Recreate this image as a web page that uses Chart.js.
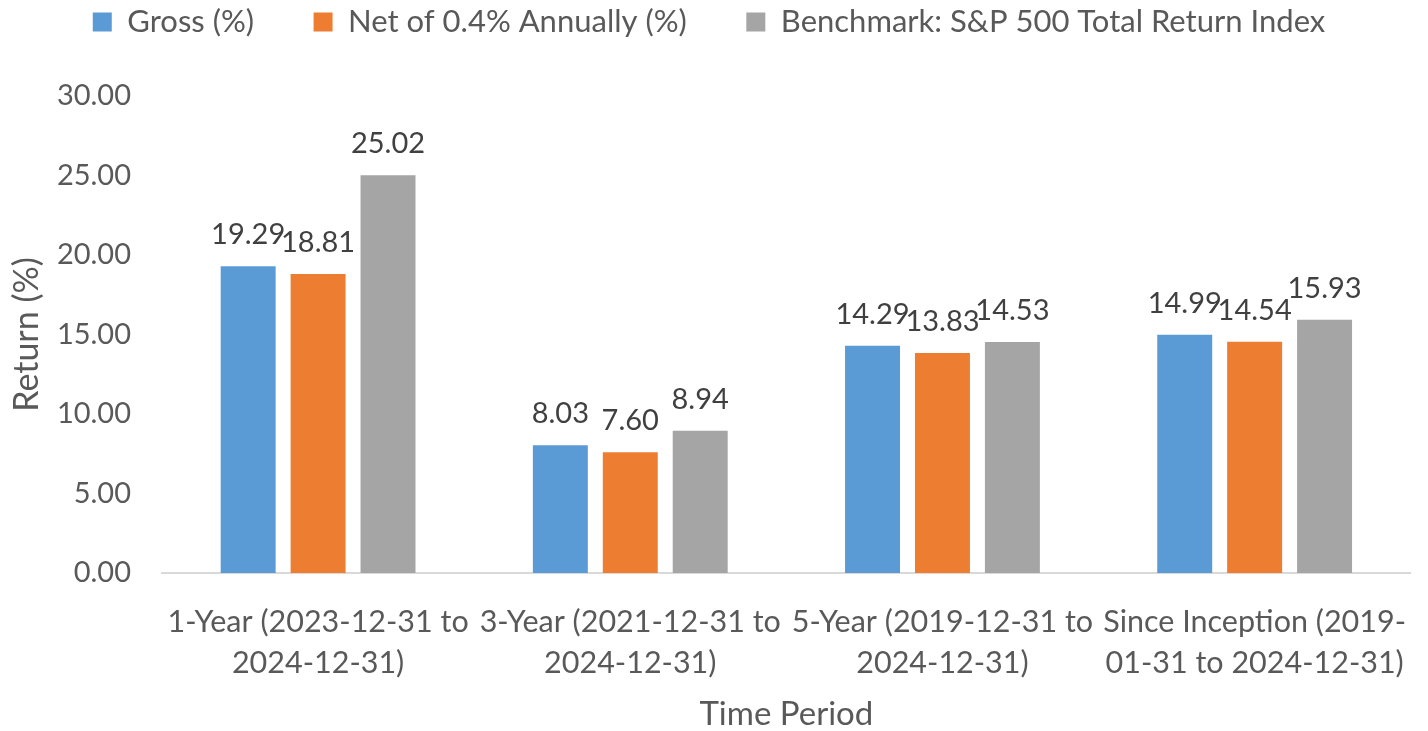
<!DOCTYPE html>
<html>
<head>
<meta charset="utf-8">
<script src="https://cdn.jsdelivr.net/npm/chart.js@4.4.1/dist/chart.umd.min.js"></script>
<style>
  html, body { margin: 0; padding: 0; background: #ffffff; }
  #wrap { width: 1428px; height: 731px; position: relative; }
</style>
</head>
<body>
<div id="wrap"><canvas id="c" width="1428" height="731"></canvas></div>
<script>
const categories = [
  ["1-Year (2023-12-31 to", "2024-12-31)"],
  ["3-Year (2021-12-31 to", "2024-12-31)"],
  ["5-Year (2019-12-31 to", "2024-12-31)"],
  ["Since Inception (2019-", "01-31 to 2024-12-31)"]
];
const seriesNames = ["Gross (%)", "Net of 0.4% Annually (%)", "Benchmark: S&P 500 Total Return Index"];
const grossValues = [19.29, 8.03, 14.29, 14.99];
const netValues = [18.81, 7.60, 13.83, 14.54];
const benchmarkValues = [25.02, 8.94, 14.53, 15.93];
const yTicks = [0, 5, 10, 15, 20, 25, 30];
const yTitle = "Return (%)";
const xTitle = "Time Period";

const FONT = "Lato, 'Open Sans', sans-serif";
const AXIS_COLOR = "#595959";
const LABEL_COLOR = "#404040";

const legendPad = 59.5;
const legendFont = 31;
const legendBox = 19;

const layoutPlugin = {
  id: 'layoutTweaks',
  beforeLayout(chart) {
    const lg = chart.legend;
    if (lg && !lg._patched) {
      lg._patched = true;
      const origFit = lg.fit;
      lg.fit = function () {
        const mw = this.maxWidth;
        this.maxWidth = 5000;
        origFit.call(this);
        this.maxWidth = mw;
        this.width = mw;
        this.height = 96;
      };
    }
  },
  afterLayout(chart) {
    const lg = chart.legend;
    const itemH = Math.max(legendFont, legendBox);
    const top = 22 - legendPad - itemH / 2;
    lg.top = top;
    lg.bottom = top + 96;
    lg.left = -5;
    lg.right = chart.width - 5;
  }
};

const dataLabelPlugin = {
  id: 'dataLabels',
  afterDatasetsDraw(chart) {
    const ctx = chart.ctx;
    ctx.save();
    ctx.font = "29px " + FONT;
    ctx.fillStyle = LABEL_COLOR;
    ctx.textAlign = 'center';
    ctx.textBaseline = 'alphabetic';
    chart.data.datasets.forEach((ds, di) => {
      const meta = chart.getDatasetMeta(di);
      meta.data.forEach((bar, i) => {
        ctx.fillText(ds.data[i].toFixed(2), bar.x, bar.y - 22);
      });
    });
    ctx.restore();
  }
};

new Chart(document.getElementById('c'), {
  type: 'bar',
  data: {
    labels: categories,
    datasets: [
      { label: seriesNames[0], data: grossValues, backgroundColor: '#5B9BD5' },
      { label: seriesNames[1], data: netValues, backgroundColor: '#ED7D31' },
      { label: seriesNames[2], data: benchmarkValues, backgroundColor: '#A5A5A5' }
    ]
  },
  options: {
    responsive: false,
    animation: false,
    devicePixelRatio: 1,
    layout: { padding: { left: 0, right: 16, top: 0, bottom: 0 } },
    datasets: { bar: { categoryPercentage: 0.672, barPercentage: 0.786 } },
    plugins: {
      legend: {
        display: true,
        position: 'top',
        labels: {
          font: { family: FONT, size: legendFont },
          color: AXIS_COLOR,
          boxWidth: legendBox,
          boxHeight: legendBox,
          padding: legendPad
        }
      },
      tooltip: { enabled: false }
    },
    scales: {
      x: {
        grid: { display: false },
        border: { display: true, color: '#D9D9D9', width: 2 },
        ticks: {
          autoSkip: false,
          maxRotation: 0,
          minRotation: 0,
          color: AXIS_COLOR,
          font: { family: FONT, size: 30.5, lineHeight: 1.36 },
          padding: 20
        },
        title: {
          display: true,
          text: xTitle,
          color: AXIS_COLOR,
          font: { family: FONT, size: 33, lineHeight: 1.0 },
          padding: { top: 0, bottom: 0 }
        },
        afterFit(scale) { scale.height = 158; }
      },
      y: {
        min: 0,
        max: 30,
        grid: { display: false },
        border: { display: false },
        afterBuildTicks(scale) { scale.ticks = yTicks.map(v => ({ value: v })); },
        ticks: {
          color: AXIS_COLOR,
          font: { family: FONT, size: 29 },
          padding: 23,
          callback: (v) => Number(v).toFixed(2)
        },
        title: {
          display: true,
          text: yTitle,
          color: AXIS_COLOR,
          font: { family: FONT, size: 34, lineHeight: 1.2 },
          padding: { top: 7, bottom: 0 }
        },
        afterFit(scale) { scale.width = 162; }
      }
    }
  },
  plugins: [layoutPlugin, dataLabelPlugin]
});
</script>
</body>
</html>
